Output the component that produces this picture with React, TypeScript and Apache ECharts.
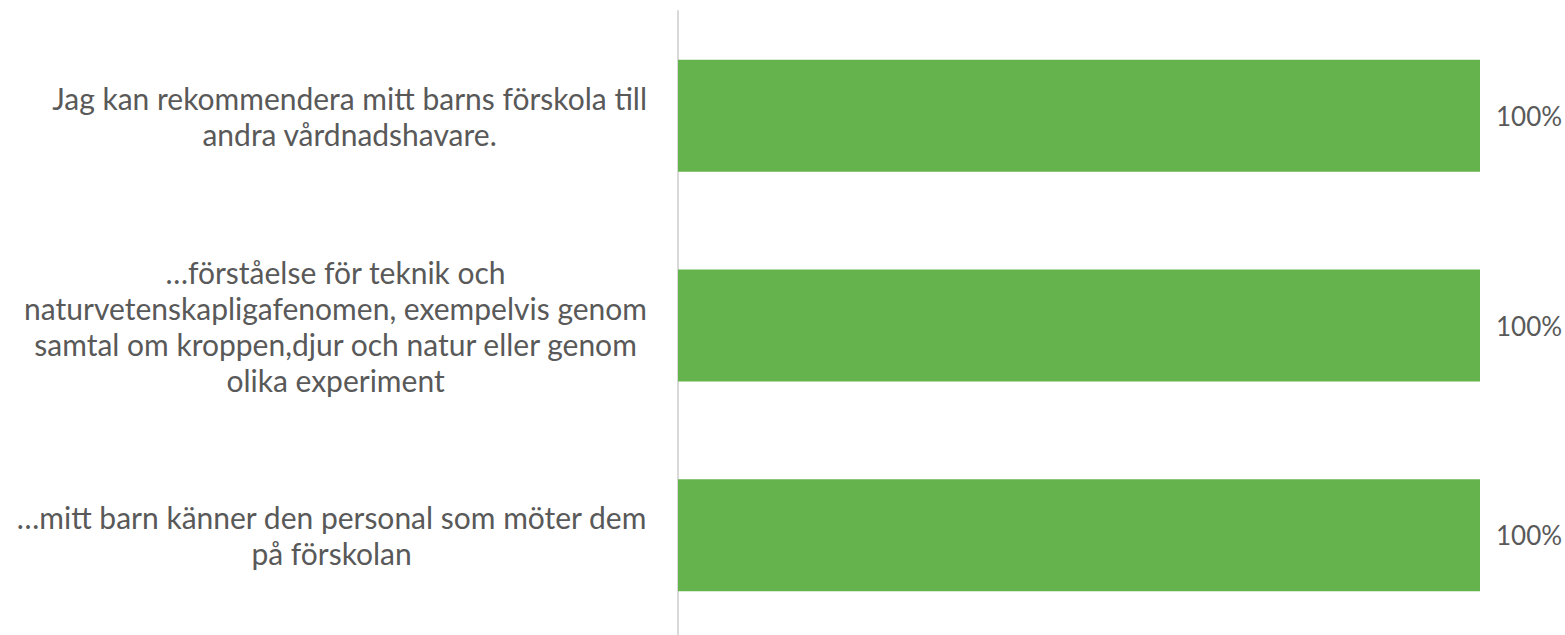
import React, { useEffect, useRef } from "react";
import * as echarts from "echarts";

const categories: string[] = [
  "Jag kan rekommendera mitt barns förskola till\nandra vårdnadshavare.",
  "…förståelse för teknik och\nnaturvetenskapligafenomen, exempelvis genom\nsamtal om kroppen,djur och natur eller genom\nolika experiment",
  "…mitt barn känner den personal som möter dem\npå förskolan",
];
const values: number[] = [100, 100, 100];

const TEXT_COLOR = "#595959";
const FONT = "Lato, 'Open Sans', sans-serif";

export default function App() {
  const ref = useRef<HTMLDivElement>(null);
  useEffect(() => {
    if (!ref.current) return;
    const chart = echarts.init(ref.current, undefined, { renderer: "svg" });
    chart.setOption({
      animation: false,
      backgroundColor: "#ffffff",
      grid: {
        left: 678,
        top: 11,
        width: 802,
        height: 629,
        containLabel: false,
        outerBoundsMode: "none",
      },
      xAxis: {
        type: "value",
        min: 0,
        max: 100,
        show: false,
        splitLine: { show: false },
      },
      yAxis: {
        type: "category",
        inverse: true,
        data: categories,
        axisLine: { show: true, lineStyle: { color: "#d9d9d9", width: 2 } },
        axisTick: { show: false },
        axisLabel: {
          margin: 31,
          align: "right",
          formatter: (v: string) =>
            v
              .split("\n")
              .map((l) => `{c|${l}}`)
              .join("\n"),
          rich: {
            c: {
              align: "center",
              fontFamily: FONT,
              fontSize: 30,
              lineHeight: 36,
              color: TEXT_COLOR,
            },
          },
        },
      },
      series: [
        {
          type: "bar",
          data: values,
          barWidth: 112,
          itemStyle: { color: "#65B34D" },
          label: {
            show: true,
            position: "right",
            distance: 16,
            formatter: "{c}%",
            fontFamily: FONT,
            fontSize: 26,
            color: TEXT_COLOR,
          },
        },
      ],
    });
    return () => chart.dispose();
  }, []);
  return (
    <div
      ref={ref}
      style={{ position: "fixed", left: 0, top: 0, width: 1565, height: 635 }}
    />
  );
}
